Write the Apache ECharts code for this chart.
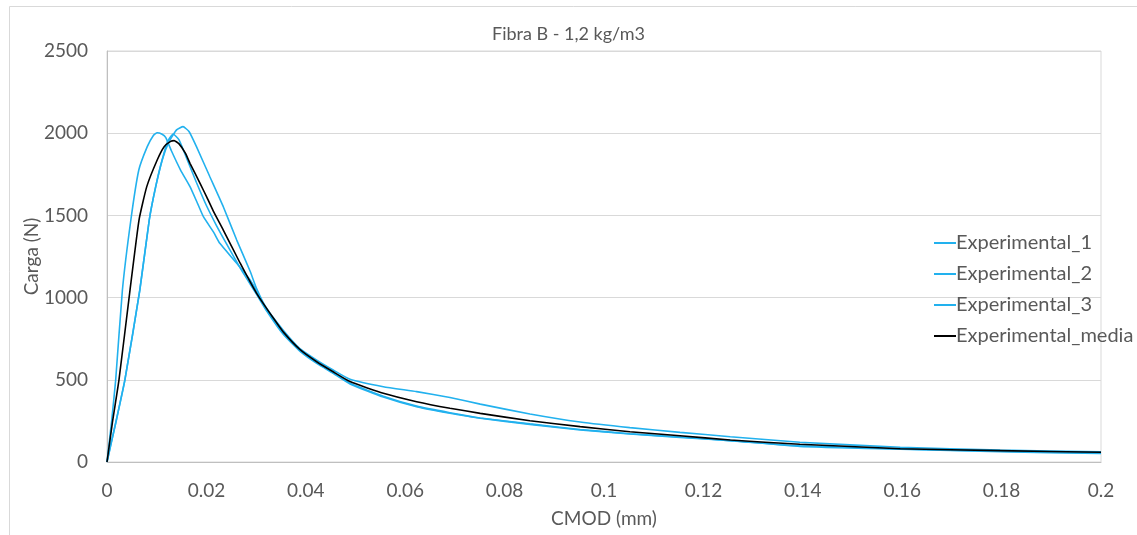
<!DOCTYPE html>
<html>
<head>
<meta charset="utf-8">
<script src="https://cdn.jsdelivr.net/npm/echarts@6/dist/echarts.min.js"></script>
<style>
html,body{margin:0;padding:0;background:#fff;}
#chart{width:1137px;height:535px;}
</style>
</head>
<body>
<div id="chart"></div>
<script>
// ---- data ----
const seriesNames = ['Experimental_1', 'Experimental_2', 'Experimental_3', 'Experimental_media'];

const exp1X = [0, 0.0009, 0.00175, 0.0031, 0.0048, 0.0064, 0.0081, 0.0093, 0.0101, 0.0110, 0.0118, 0.0130, 0.0148, 0.0167, 0.0182, 0.0194, 0.0215, 0.0227, 0.0261, 0.0288, 0.0301, 0.0321, 0.0355, 0.0388, 0.0422, 0.0455, 0.0489, 0.0556, 0.0623, 0.0690, 0.0751, 0.0851, 0.0952, 0.1052, 0.1153, 0.1254, 0.1394, 0.1596, 0.1797, 0.2];
const exp1Y = [0, 240, 500, 1046, 1472, 1776, 1918, 1985, 2003, 1995, 1975, 1890, 1776, 1675, 1574, 1492, 1395, 1330, 1209, 1107, 1040, 925, 783, 681, 605, 543, 479, 400, 340, 300, 268, 232, 198, 172, 152, 130, 98, 80, 65, 55];

const exp2X = [0, 0.0009, 0.00175, 0.0036, 0.0066, 0.0085, 0.0098, 0.0111, 0.0122, 0.0133, 0.0145, 0.0160, 0.0180, 0.0200, 0.0220, 0.0240, 0.0270, 0.0301, 0.0321, 0.0355, 0.0388, 0.0422, 0.0455, 0.0489, 0.0556, 0.0623, 0.0690, 0.0751, 0.0851, 0.0952, 0.1052, 0.1153, 0.1254, 0.1394, 0.1596, 0.1797, 0.2];
const exp2Y = [0, 125, 237, 499, 1046, 1472, 1675, 1837, 1950, 1995, 1960, 1850, 1700, 1560, 1440, 1330, 1170, 1020, 920, 775, 675, 600, 540, 475, 395, 336, 296, 266, 229, 195, 170, 150, 130, 95, 78, 62, 52];

const exp3X = [0, 0.00175, 0.0036, 0.0066, 0.0085, 0.0098, 0.0111, 0.0125, 0.0140, 0.0153, 0.0165, 0.0180, 0.0207, 0.0234, 0.0261, 0.0288, 0.0301, 0.0321, 0.0355, 0.0388, 0.0422, 0.0455, 0.0489, 0.0556, 0.0623, 0.0690, 0.0751, 0.0851, 0.0952, 0.1052, 0.1153, 0.1254, 0.1394, 0.1596, 0.1797, 0.2];
const exp3Y = [0, 237, 499, 1046, 1472, 1675, 1837, 1950, 2020, 2040, 2010, 1918, 1735, 1553, 1350, 1160, 1055, 935, 800, 690, 620, 560, 503, 458, 428, 392, 352, 292, 243, 209, 180, 154, 120, 90, 72, 62];

const mediaX = [0, 0.00107, 0.00241, 0.00463, 0.00644, 0.0080, 0.0101, 0.0115, 0.0128, 0.0135, 0.0145, 0.0158, 0.0167, 0.0188, 0.0201, 0.0215, 0.0234, 0.0268, 0.0301, 0.0335, 0.0355, 0.0388, 0.0422, 0.0455, 0.0489, 0.0556, 0.0623, 0.0690, 0.0751, 0.0851, 0.0952, 0.1052, 0.1153, 0.1254, 0.1394, 0.1596, 0.1797, 0.2];
const mediaY = [0, 237, 499, 1046, 1472, 1675, 1837, 1918, 1950, 1955, 1935, 1877, 1817, 1690, 1610, 1520, 1411, 1209, 1026, 874, 790, 685, 610, 549, 489, 418, 367, 327, 296, 251, 215, 184, 160, 134, 108, 81, 69, 59];

const xTicks = [0, 0.02, 0.04, 0.06, 0.08, 0.1, 0.12, 0.14, 0.16, 0.18, 0.2];
const yTicks = [0, 500, 1000, 1500, 2000, 2500];

// ---- chart ----
const FONT = 'Lato';
const TXT = '#595959';
const BLUE = '#22b1ee';
const pair = (xs, ys) => xs.map((x, i) => [x, ys[i]]);
const lineSeries = (name, xs, ys, color) => ({
  name, type: 'line', data: pair(xs, ys), symbol: 'none', smooth: 0.15,
  lineStyle: { color, width: 1.6 }, itemStyle: { color }, z: color === '#000000' ? 5 : 3
});

const chart = echarts.init(document.getElementById('chart'), null, { renderer: 'canvas' });
chart.setOption({
  animation: false,
  backgroundColor: '#ffffff',
  textStyle: { fontFamily: FONT },
  graphic: [{
    type: 'rect', left: 7, top: 4, shape: { width: 1200, height: 600 },
    style: { fill: 'none', stroke: '#d9d9d9', lineWidth: 1 }, silent: true, z: -1
  }],
  title: {
    text: 'Fibra B - 1,2 kg/m3', left: 'center', top: 20,
    textStyle: { fontFamily: FONT, fontSize: 18, fontWeight: 'normal', color: TXT }
  },
  legend: {
    orient: 'vertical', left: 928, top: 228, itemGap: 11,
    itemWidth: 22, itemHeight: 2,
    data: seriesNames,
    textStyle: { fontFamily: FONT, fontSize: 20, color: TXT, padding: [0, 0, 0, -5] }
  },
  grid: {
    left: 107, right: 36, top: 51, bottom: 73, containLabel: false,
    show: true, borderColor: '#d9d9d9', borderWidth: 1
  },
  xAxis: {
    type: 'value', min: xTicks[0], max: xTicks[xTicks.length - 1], interval: 0.02,
    name: 'CMOD (mm)', nameLocation: 'middle', nameGap: 47, nameMoveOverlap: false,
    nameTextStyle: { fontFamily: FONT, fontSize: 19, color: TXT },
    axisLine: { show: true, lineStyle: { color: '#bfbfbf', width: 1 } },
    axisTick: { show: false },
    splitLine: { show: false },
    axisLabel: {
      fontFamily: FONT, fontSize: 19, color: TXT, margin: 19,
      formatter: v => { const t = xTicks.find(k => Math.abs(k - v) < 1e-9); return t === undefined ? '' : String(t); }
    }
  },
  yAxis: {
    type: 'value', min: yTicks[0], max: yTicks[yTicks.length - 1], interval: 500,
    name: 'Carga (N)', nameLocation: 'middle', nameGap: 66, nameRotate: 90, nameMoveOverlap: false,
    nameTextStyle: { fontFamily: FONT, fontSize: 19, color: TXT },
    axisLine: { show: true, lineStyle: { color: '#bfbfbf', width: 1 } },
    axisTick: { show: false },
    splitLine: { show: true, lineStyle: { color: '#d9d9d9', width: 1 } },
    axisLabel: {
      fontFamily: FONT, fontSize: 19, color: TXT, margin: 19,
      formatter: v => { const t = yTicks.find(k => Math.abs(k - v) < 1e-6); return t === undefined ? '' : String(t); }
    }
  },
  series: [
    lineSeries(seriesNames[0], exp1X, exp1Y, BLUE),
    lineSeries(seriesNames[1], exp2X, exp2Y, BLUE),
    lineSeries(seriesNames[2], exp3X, exp3Y, BLUE),
    lineSeries(seriesNames[3], mediaX, mediaY, '#000000')
  ]
});
</script>
</body>
</html>
